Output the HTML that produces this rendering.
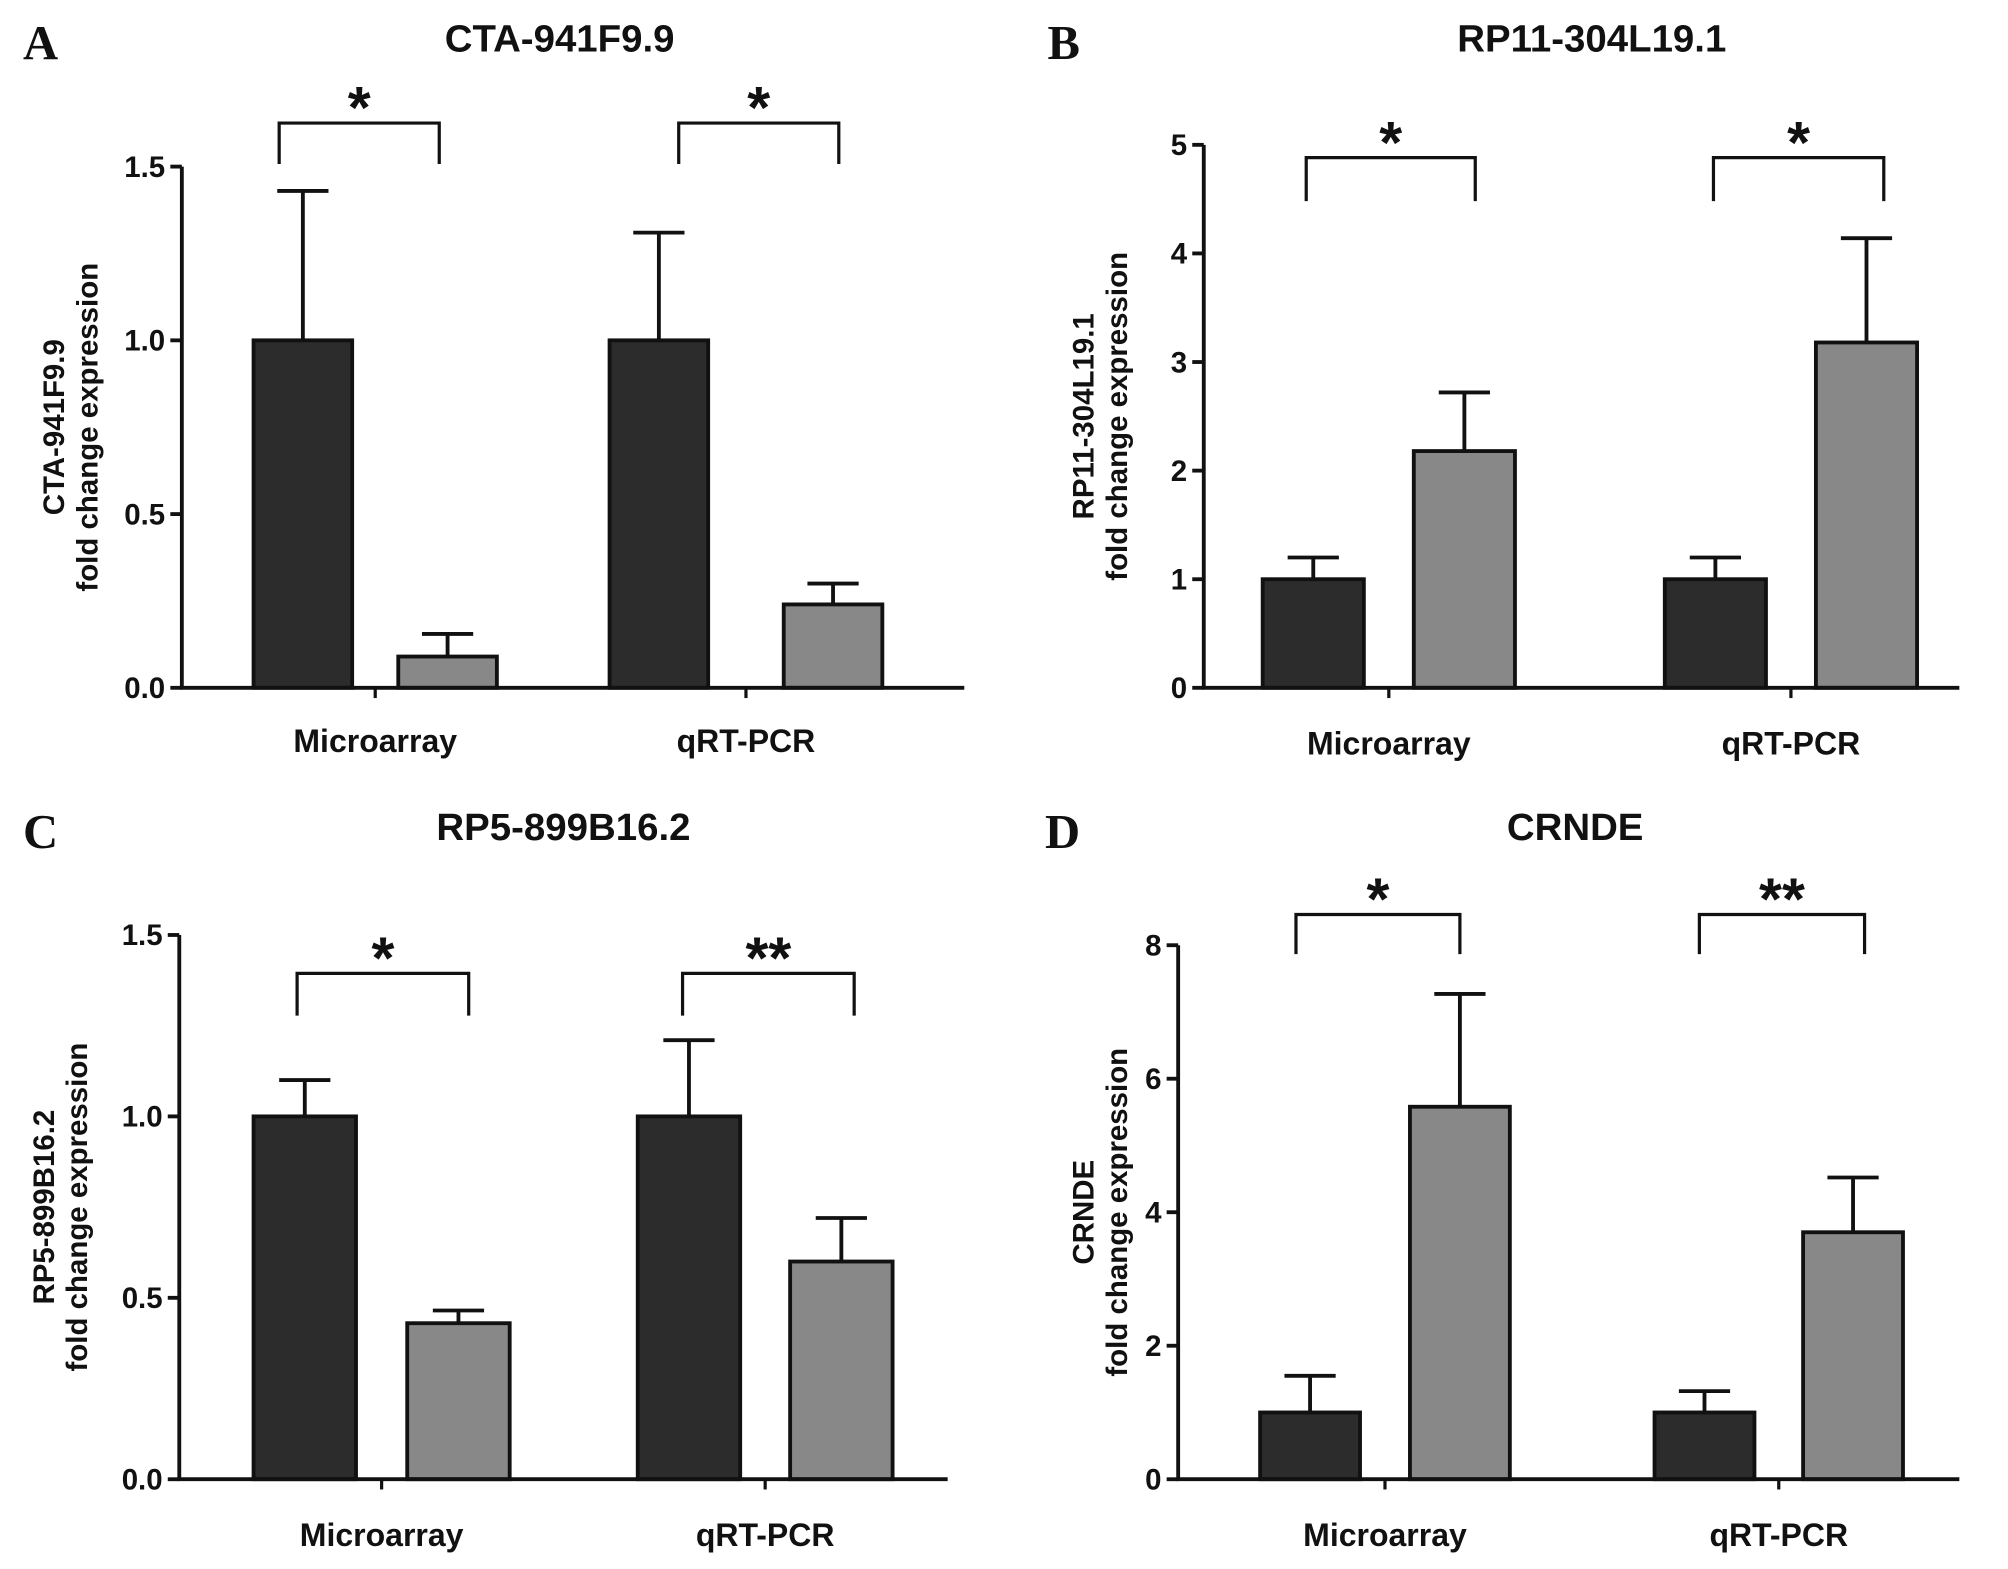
<!DOCTYPE html>
<html><head><meta charset="utf-8"><style>
html,body{margin:0;padding:0;background:#fff;}
svg{display:block;}
text{font-family:"Liberation Sans",Arial,sans-serif;font-weight:bold;fill:#111;}
</style></head>
<body>
<svg id="fig" width="2008" height="1569" viewBox="0 0 1568 1225" xmlns="http://www.w3.org/2000/svg"></svg>
<script>
// Panel data
const categories = ["Microarray", "qRT-PCR"];
const titles = ["CTA-941F9.9", "RP11-304L19.1", "RP5-899B16.2", "CRNDE"];
const letters = ["A", "B", "C", "D"];
const darkValues = [[1.0, 1.0], [1.0, 1.0], [1.0, 1.0], [1.0, 1.0]];
const darkErrors = [[1.43, 1.31], [1.2, 1.2], [1.10, 1.21], [1.55, 1.32]];
const lightValues = [[0.09, 0.24], [2.18, 3.18], [0.43, 0.60], [5.58, 3.70]];
const lightErrors = [[0.155, 0.30], [2.72, 4.14], [0.465, 0.72], [7.27, 4.52]];
const yMaxes = [1.5, 5, 1.5, 8];
const tickLabels = [["0.0","0.5","1.0","1.5"], ["0","1","2","3","4","5"], ["0.0","0.5","1.0","1.5"], ["0","2","4","6","8"]];
const tickValues = [[0,0.5,1,1.5],[0,1,2,3,4,5],[0,0.5,1,1.5],[0,2,4,6,8]];
const stars = [["*","*"],["*","*"],["*","**"],["*","**"]];

// layout (not data)
const layouts = [
  {ax:142, x1:753, y0:537, yTop:130, groups:[[198,311],[476,612]], bw:77, br:[96,128], brx:[[218,343],[530,655]], titleX:437, titleY:40, letterX:18, letterY:46, ylx:[42,68], catY:587, id:"a"},
  {ax:940, x1:1530, y0:537, yTop:113, groups:[[986,1104],[1300,1418]], bw:79, br:[123,157], brx:[[1020,1152],[1338,1471]], titleX:1243, titleY:40, letterX:818, letterY:46, ylx:[846,872], catY:589, id:"b"},
  {ax:140, x1:740, y0:1155, yTop:730, groups:[[198,318],[498,617]], bw:80, br:[760,793], brx:[[232,366],[533,667]], titleX:440, titleY:656, letterX:18, letterY:662, ylx:[34,60], catY:1207, id:"c"},
  {ax:920, x1:1530, y0:1155, yTop:738, groups:[[984,1101],[1292,1408]], bw:78, br:[714,745], brx:[[1012,1140],[1327,1456]], titleX:1230, titleY:656, letterX:816, letterY:662, ylx:[846,872], catY:1207, id:"d"}
];
const NS = "http://www.w3.org/2000/svg";
const svg = document.getElementById("fig");
function mk(tag, attrs, parent, txt){
  const e = document.createElementNS(NS, tag);
  for (const k in attrs) e.setAttribute(k, attrs[k]);
  if (txt !== undefined) e.textContent = txt;
  parent.appendChild(e);
  return e;
}
layouts.forEach((L, p) => {
  const g = mk("g", {}, svg);
  
  
  const y = v => L.y0 - v / yMaxes[p] * (L.y0 - L.yTop);
  const lt = mk("text", {x:L.letterX, y:L.letterY, "font-size":38, style:"font-family:'Liberation Serif',serif;font-weight:bold"}, g, letters[p]);
  
  
  const tt = mk("text", {x:L.titleX, y:L.titleY, "font-size":30, "text-anchor":"middle"}, g, titles[p]);
  
  
  const cy = (L.y0 + L.yTop) / 2;
  const yl1 = mk("text", {x:L.ylx[0], y:cy, "font-size":23, "text-anchor":"middle", transform:`rotate(-90 ${L.ylx[0]} ${cy})`, dy:"8"}, g, titles[p]);
  
  
  const yl2 = mk("text", {x:L.ylx[1], y:cy, "font-size":23, "text-anchor":"middle", transform:`rotate(-90 ${L.ylx[1]} ${cy})`, dy:"8"}, g, "fold change expression");
  
  
  L.groups.forEach((gx, ci) => {
    const sets = [[darkValues, darkErrors, "#2c2c2c", "dark"], [lightValues, lightErrors, "#888", "light"]];
    sets.forEach((s, si) => {
      const v = s[0][p][ci], e = s[1][p][ci];
      const bx = gx[si], cx = bx + L.bw / 2;
      const eb = mk("path", {d:`M${cx},${y(v)}V${y(e)}M${cx-20},${y(e)}H${cx+20}`, stroke:"#111", "stroke-width":3, fill:"none"}, g);
      
      
      const r = mk("rect", {x:bx, y:y(v), width:L.bw, height:L.y0 - y(v), fill:s[2], stroke:"#111", "stroke-width":3}, g);
      
      
    });
    const b1 = L.brx[ci][0], b2 = L.brx[ci][1];
    const br = mk("path", {d:`M${b1},${L.br[1]}V${L.br[0]}H${b2}V${L.br[1]}`, stroke:"#111", "stroke-width":2.5, fill:"none"}, g);
    
    
    const st = mk("text", {x:(b1 + b2) / 2, y:L.br[0] + 4, "font-size":46, "text-anchor":"middle"}, g, stars[p][ci]);
    
    
    const mid = (gx[0] + gx[1] + L.bw) / 2;
    mk("line", {x1:mid, x2:mid, y1:L.y0, y2:L.y0 + 8, stroke:"#111", "stroke-width":2.5}, g);
    const cl = mk("text", {x:mid, y:L.catY, "font-size":25, "text-anchor":"middle"}, g, categories[ci]);
    
    
  });
  const axes = mk("path", {d:`M${L.ax},${L.yTop}V${L.y0}H${L.x1}`, stroke:"#111", "stroke-width":3, fill:"none"}, g);
  
  
  tickValues[p].forEach((tv, i) => {
    mk("line", {x1:L.ax - 9, x2:L.ax, y1:y(tv), y2:y(tv), stroke:"#111", "stroke-width":3}, g);
    const t = mk("text", {x:L.ax - 13, y:y(tv) + 8, "font-size":23, "text-anchor":"end"}, g, tickLabels[p][i]);
    
    
  });
});
</script>
</body></html>
